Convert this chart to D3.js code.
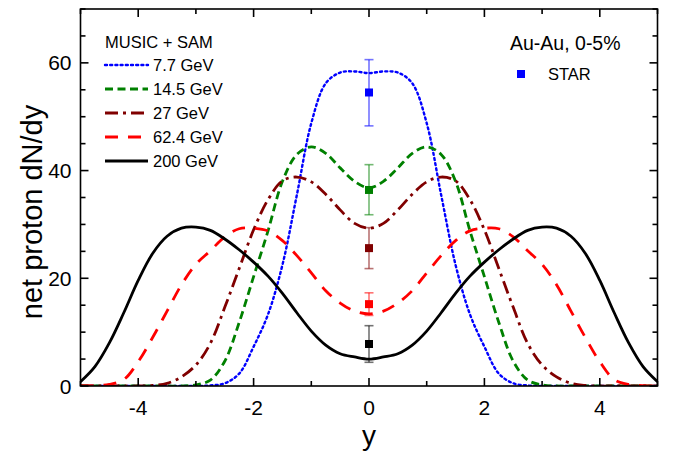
<!DOCTYPE html>
<html><head><meta charset="utf-8">
<script src="https://cdn.jsdelivr.net/npm/d3@7/dist/d3.min.js"></script>
<style>body{margin:0;background:#fff}svg{display:block}text{font-family:"Liberation Sans",Arial,sans-serif;fill:#000}</style>
</head><body><svg id="c" width="680" height="454"></svg>
<script>
const rapidity = [-5,-4.75,-4.5,-4.25,-4,-3.75,-3.5,-3.25,-3,-2.75,-2.5,-2.25,-2,-1.75,-1.5,-1.25,-1,-0.75,-0.5,-0.25,0,0.25,0.5,0.75,1,1.25,1.5,1.75,2,2.25,2.5,2.75,3,3.25,3.5,3.75,4,4.25,4.5,4.75,5];
const v7_7  = [0,0,0,0,0,0,0,0,0,0.1,0.5,2.3,7.3,13.3,22.5,35.5,48.8,56.2,58.2,58.4,58.1,58.4,58.2,56.2,48.8,35.5,22.5,13.3,7.3,2.3,0.5,0.1,0,0,0,0,0,0,0,0,0];
const v14_5 = [0,0,0,0,0,0,0,0,0.2,1.1,4.6,11.8,20.3,28.8,38.0,43.0,44.4,43.2,40.5,38.0,36.8,38.0,40.5,43.2,44.4,43.0,38.0,28.8,20.3,11.8,4.6,1.1,0.2,0,0,0,0,0,0,0,0];
const v27   = [0,0,0,0,0,0.1,0.5,1.7,3.9,7.9,14.6,21.8,29.0,34.6,38.1,38.8,37.9,35.6,32.7,30.2,29.3,30.2,32.7,35.6,37.9,38.8,38.1,34.6,29.0,21.8,14.6,7.9,3.9,1.7,0.5,0.1,0,0,0,0,0];
const v62_4 = [0,0.05,0.3,1.2,4.5,9.0,13.9,18.8,22.6,25.1,27.7,29.2,29.3,28.8,27.0,24.2,21.0,17.7,15.4,13.9,13.4,13.9,15.4,17.7,21.0,24.2,27.0,28.8,29.3,29.2,27.7,25.1,22.6,18.8,13.9,9.0,4.5,1.2,0.3,0.05,0];
const v200  = [0.8,3.6,8.0,13.6,19.6,24.6,27.8,29.3,29.5,28.9,27.3,25.3,23.0,20.4,17.2,13.6,10.2,7.6,6.0,5.4,5.0,5.4,6.0,7.6,10.2,13.6,17.2,20.4,23.0,25.3,27.3,28.9,29.5,29.3,27.8,24.6,19.6,13.6,8.0,3.6,0.8];
const seriesNames = ["7.7 GeV","14.5 GeV","27 GeV","62.4 GeV","200 GeV"];
const seriesColors = ["#0000ff","#008000","#800000","#ff0000","#000000"];
const seriesDash = ["2,3.2","8,4.5","13,5,3,5","13,10","none"];
const starY = [0,0,0,0,0];
const starVal = [54.5,36.4,25.6,15.2,7.8];
const starLow = [48.3,31.8,21.8,13.1,4.4];
const starHigh = [60.6,41.1,29.4,17.3,11.2];
const xTicks = [-4,-2,0,2,4];
const xMinor = [-5,-3,-1,1,3,5];
const yTicks = [0,20,40,60];
const yMinor = [5,10,15,25,30,35,45,50,55,65,70];

const series = [v7_7,v14_5,v27,v62_4,v200];
const W=680,H=454, m={l:80.5,r:22.5,t:9,b:68};
const svg = d3.select("#c");
const x = d3.scaleLinear().domain([-5,5]).range([m.l, W-m.r]);
const y = d3.scaleLinear().domain([0,70]).range([H-m.b, m.t]);

svg.append("defs").append("clipPath").attr("id","clip").append("rect")
  .attr("x",m.l).attr("y",m.t).attr("width",W-m.r-m.l).attr("height",H-m.b-m.t);

const line = d3.line().x((d,i)=>x(rapidity[i])).y(d=>y(d)).curve(d3.curveCatmullRom.alpha(0.5));
const g = svg.append("g").attr("clip-path","url(#clip)");
series.forEach((s,k)=>{
  g.append("path").attr("d",line(s)).attr("fill","none")
    .attr("stroke",seriesColors[k]).attr("stroke-width",k===0?2.4:2.8)
    .attr("stroke-dasharray",seriesDash[k]==="none"?null:seriesDash[k])
    .attr("stroke-linecap",k===0?"round":"butt");
});

// STAR points
starVal.forEach((v,k)=>{
  const cx=x(starY[k]);
  const eg=svg.append("g").attr("stroke",seriesColors[k]).attr("stroke-opacity",0.55).attr("stroke-width",1.6);
  eg.append("line").attr("x1",cx).attr("x2",cx).attr("y1",y(starLow[k])).attr("y2",y(starHigh[k]));
  eg.append("line").attr("x1",cx-4.5).attr("x2",cx+4.5).attr("y1",y(starLow[k])).attr("y2",y(starLow[k]));
  eg.append("line").attr("x1",cx-4.5).attr("x2",cx+4.5).attr("y1",y(starHigh[k])).attr("y2",y(starHigh[k]));
  svg.append("rect").attr("x",cx-4).attr("y",y(v)-4).attr("width",8).attr("height",8).attr("fill",seriesColors[k]);
});

// frame & ticks
const fr = svg.append("g").attr("stroke","#000").attr("stroke-width",1.6);
fr.append("rect").attr("x",m.l).attr("y",m.t).attr("width",W-m.r-m.l).attr("height",H-m.b-m.t).attr("fill","none");
const bx=H-m.b, tx=m.t, lx=m.l, rx=W-m.r;
xTicks.forEach(t=>{fr.append("line").attr("x1",x(t)).attr("x2",x(t)).attr("y1",bx).attr("y2",bx-8);
  fr.append("line").attr("x1",x(t)).attr("x2",x(t)).attr("y1",tx).attr("y2",tx+8);});
xMinor.forEach(t=>{fr.append("line").attr("x1",x(t)).attr("x2",x(t)).attr("y1",bx).attr("y2",bx-5);
  fr.append("line").attr("x1",x(t)).attr("x2",x(t)).attr("y1",tx).attr("y2",tx+5);});
yTicks.forEach(t=>{fr.append("line").attr("x1",lx).attr("x2",lx+8).attr("y1",y(t)).attr("y2",y(t));
  fr.append("line").attr("x1",rx).attr("x2",rx-8).attr("y1",y(t)).attr("y2",y(t));});
yMinor.forEach(t=>{fr.append("line").attr("x1",lx).attr("x2",lx+5).attr("y1",y(t)).attr("y2",y(t));
  fr.append("line").attr("x1",rx).attr("x2",rx-5).attr("y1",y(t)).attr("y2",y(t));});

xTicks.forEach(t=>svg.append("text").attr("x",x(t)).attr("y",bx+29).attr("text-anchor","middle")
  .attr("font-size",21).text(t<0?"-"+Math.abs(t):t));
yTicks.forEach(t=>svg.append("text").attr("x",lx-9).attr("y",y(t)+7.5).attr("text-anchor","end")
  .attr("font-size",21).text(t));

svg.append("text").attr("x",x(0)).attr("y",445).attr("text-anchor","middle").attr("font-size",28).text("y");
svg.append("text").attr("transform",`translate(42,212) rotate(-90)`).attr("text-anchor","middle")
  .attr("font-size",29).text("net proton dN/dy");

// legend
svg.append("text").attr("x",105).attr("y",48).attr("font-size",16.5).text("MUSIC + SAM");
seriesNames.forEach((n,k)=>{
  const ly=65+k*24;
  svg.append("line").attr("x1",105).attr("x2",148).attr("y1",ly).attr("y2",ly)
    .attr("stroke",seriesColors[k]).attr("stroke-width",k===0?2.4:2.8)
    .attr("stroke-dasharray",seriesDash[k]==="none"?null:seriesDash[k]).attr("stroke-linecap",k===0?"round":"butt");
  svg.append("text").attr("x",153).attr("y",ly+6).attr("font-size",16.5).text(n);
});
svg.append("text").attr("x",510).attr("y",50).attr("font-size",19.5).text("Au-Au, 0-5%");
svg.append("rect").attr("x",517).attr("y",70).attr("width",8).attr("height",8).attr("fill","#0000ff");
svg.append("text").attr("x",548).attr("y",80).attr("font-size",16.5).text("STAR");
</script></body></html>
